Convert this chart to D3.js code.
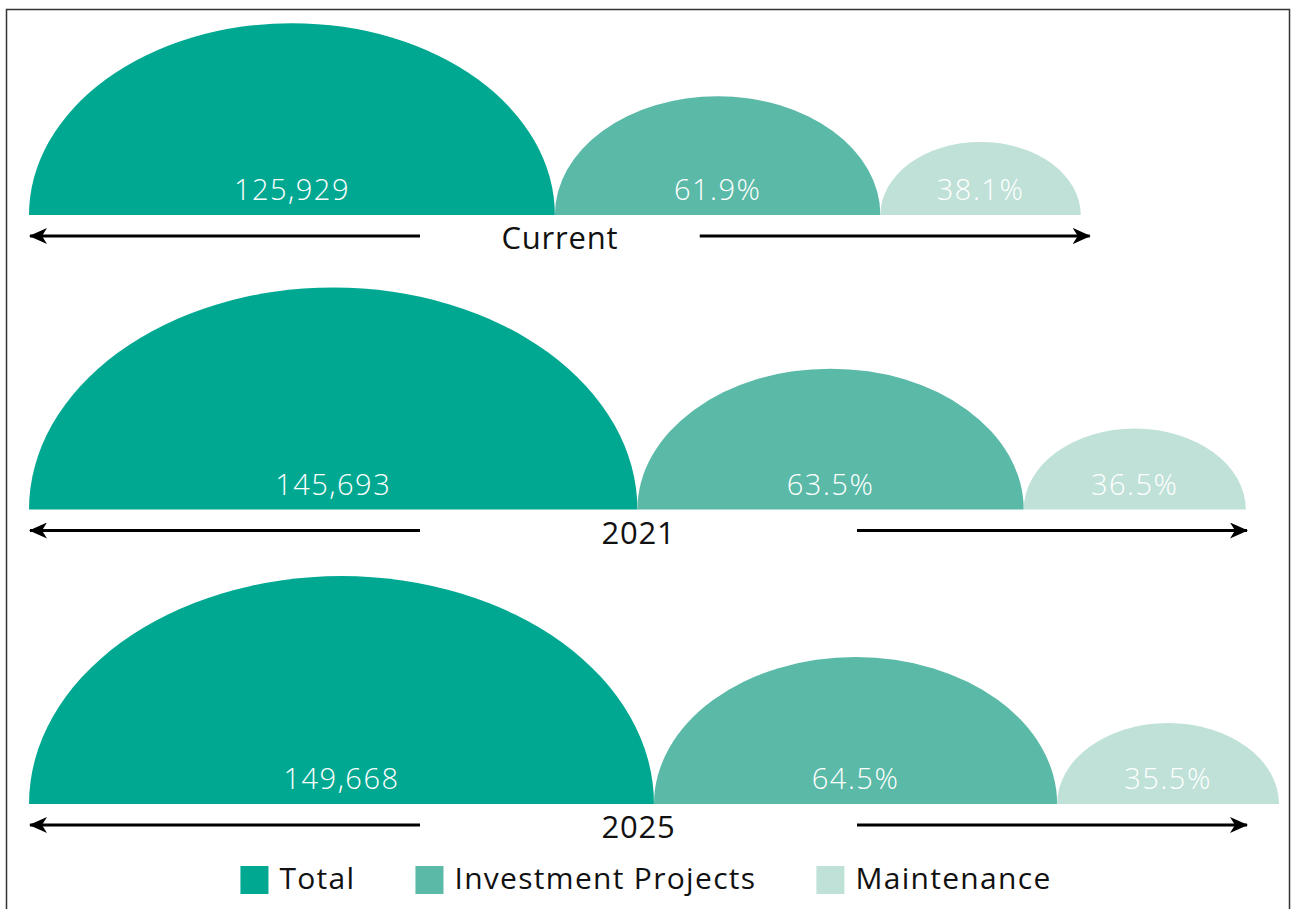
<!DOCTYPE html>
<html>
<head>
<meta charset="utf-8">
<script src="https://cdn.jsdelivr.net/npm/d3@7"></script>
<style>
  html, body { margin: 0; padding: 0; background: #fff; }
  svg { display: block; }
</style>
</head>
<body>
<svg id="chart" width="1292" height="909"></svg>
<script>
// ---- data ----
const periods = ["Current", "2021", "2025"];
const totals = [125929, 145693, 149668];
const investmentShare = [61.9, 63.5, 64.5];
const maintenanceShare = [38.1, 36.5, 35.5];
const seriesNames = ["Total", "Investment Projects", "Maintenance"];
const seriesColors = ["#00a891", "#5ab9a7", "#bfe1d8"];

// ---- layout ----
const W = 1292, H = 909;
const svg = d3.select("#chart");
const FONT = "'Open Sans', 'Noto Sans', sans-serif";

// frame
svg.append("rect")
  .attr("x", 6.5).attr("y", 9.5)
  .attr("width", 1283).attr("height", 920)
  .attr("fill", "none").attr("stroke", "#333").attr("stroke-width", 1.5);

const left = 29;
const plotRight = 1248;
const maxTotal = d3.max(totals);

// width of a half-ellipse proportional to value
const wScale = d3.scaleLinear().domain([0, maxTotal]).range([0, 625]);
// height of a half-ellipse proportional to value
const hScale = d3.scaleLinear().domain([0, maxTotal]).range([0, 228]);
// baseline of each row
const yBase = d3.scalePoint().domain(periods).range([215, 804]);

const color = d3.scaleOrdinal().domain(seriesNames).range(seriesColors);
const fmtNum = d3.format(",");
const fmtPct = d => d3.format(".1f")(d) + "%";

// arrow marker defs
const defs = svg.append("defs");
defs.append("marker")
  .attr("id", "arrowEnd")
  .attr("viewBox", "0 0 18 16")
  .attr("refX", 17).attr("refY", 8)
  .attr("markerWidth", 18).attr("markerHeight", 16)
  .attr("markerUnits", "userSpaceOnUse")
  .attr("orient", "auto")
  .append("path")
  .attr("d", "M0,0 L18,8 L0,16 L5,8 Z")
  .attr("fill", "#000");

function halfEllipse(x0, w, h, base) {
  const rx = w / 2;
  return `M${x0},${base} A${rx},${h} 0 0 1 ${x0 + w},${base} Z`;
}

periods.forEach((p, i) => {
  const base = yBase(p);
  const total = totals[i];
  const tw = wScale(total);
  const th = hScale(total);
  const parts = [
    { name: "Total", w: tw, h: th, label: fmtNum(total) },
    { name: "Investment Projects", w: tw * investmentShare[i] / 100, h: th * investmentShare[i] / 100, label: fmtPct(investmentShare[i]) },
    { name: "Maintenance", w: tw * maintenanceShare[i] / 100, h: th * maintenanceShare[i] / 100, label: fmtPct(maintenanceShare[i]) }
  ];
  let x = left;
  parts.forEach(d => { d.x0 = x; x += d.w; });
  const rowEnd = x;

  const g = svg.append("g");
  g.selectAll("path.shape").data(parts).join("path")
    .attr("class", "shape")
    .attr("d", d => halfEllipse(d.x0, d.w, d.h, base))
    .attr("fill", d => color(d.name));

  g.selectAll("text.val").data(parts).join("text")
    .attr("class", "val")
    .attr("x", d => d.x0 + d.w / 2)
    .attr("y", base - 15)
    .attr("text-anchor", "middle")
    .attr("fill", "#fff")
    .style("font-family", FONT)
    .style("font-weight", 350)
    .style("font-size", "29px")
    .style("letter-spacing", "1.5px")
    .text(d => d.label);

  // arrows + period label
  const arrowY = base + 21;
  const arrowEnd = Math.min(rowEnd + 10, plotRight);
  const segLen = 391;
  g.append("line")
    .attr("x1", left + segLen).attr("y1", arrowY)
    .attr("x2", left + 1).attr("y2", arrowY)
    .attr("stroke", "#000").attr("stroke-width", 3)
    .attr("marker-end", "url(#arrowEnd)");
  g.append("line")
    .attr("x1", arrowEnd - segLen).attr("y1", arrowY)
    .attr("x2", arrowEnd - 1).attr("y2", arrowY)
    .attr("stroke", "#000").attr("stroke-width", 3)
    .attr("marker-end", "url(#arrowEnd)");
  g.append("text")
    .attr("x", (left + arrowEnd) / 2)
    .attr("y", arrowY + 13)
    .attr("text-anchor", "middle")
    .attr("fill", "#111")
    .style("font-family", FONT)
    .style("font-size", "31px")
    .style("letter-spacing", "0.8px")
    .text(p);
});

// legend
const legend = svg.append("g");
const items = legend.selectAll("g").data(seriesNames).join("g");
items.append("rect")
  .attr("width", 28).attr("height", 28)
  .attr("y", 866)
  .attr("fill", d => color(d));
items.append("text")
  .attr("x", 39).attr("y", 889)
  .attr("fill", "#111")
  .style("font-family", FONT)
  .style("font-size", "30px")
  .style("letter-spacing", "1.3px")
  .text(d => d);
let lx = 0;
const offs = [];
items.each(function(d) {
  offs.push(lx);
  const tw = d3.select(this).select("text").node().getComputedTextLength();
  lx += 39 + tw + 60;
});
const totalW = lx - 60;
const startX = W / 2 - totalW / 2;
items.attr("transform", (d, i) => `translate(${startX + offs[i]},0)`);
</script>
</body>
</html>
